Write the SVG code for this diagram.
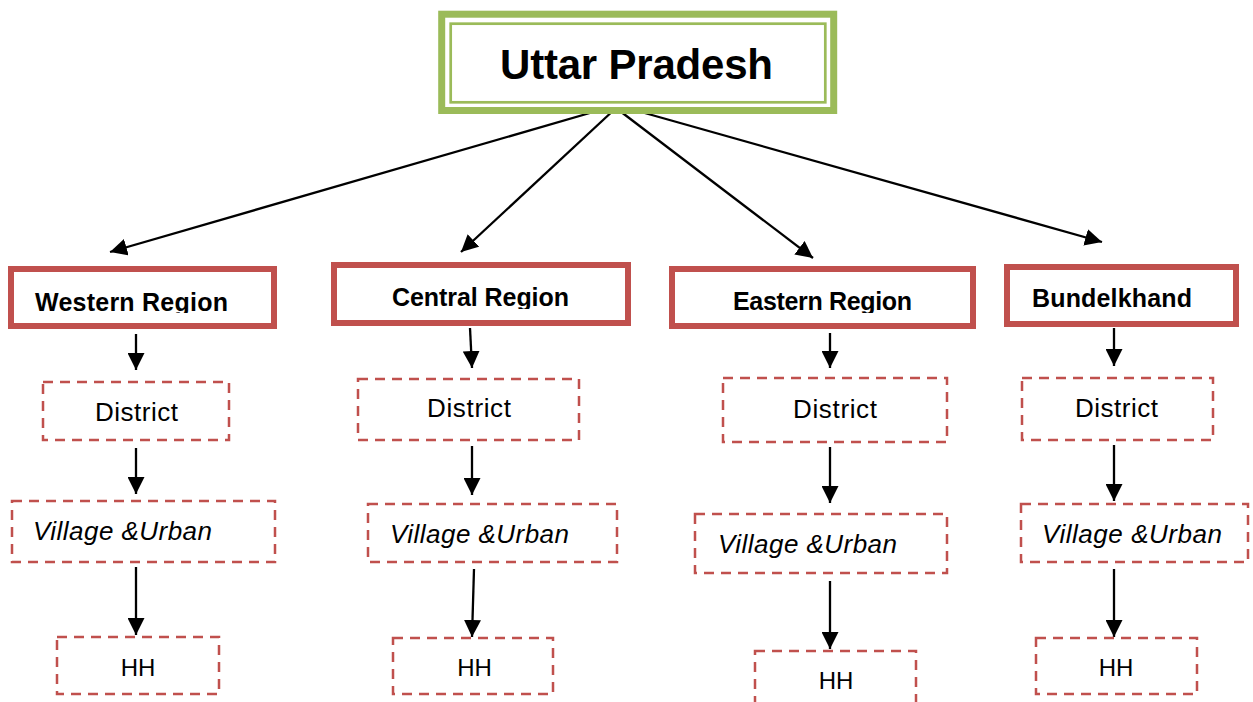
<svg xmlns="http://www.w3.org/2000/svg" width="1253" height="702" viewBox="0 0 1253 702">
<style>
.region{fill:#fff;stroke:#C0504D;stroke-width:6}
.dash{fill:#fff;stroke:#C0504D;stroke-width:2.5;stroke-dasharray:10 7}
.rt{font-family:"Liberation Sans",Arial,sans-serif;font-weight:bold;font-size:25px;fill:#000}
.nt{font-family:"Liberation Sans",Arial,sans-serif;font-size:26px;fill:#000}
.hh{font-family:"Liberation Sans",Arial,sans-serif;font-size:24px;fill:#000;text-anchor:middle}
.it{font-family:"Liberation Sans",Arial,sans-serif;font-style:italic;font-size:26px;fill:#000}
.conn{stroke:#000;stroke-width:2.3;fill:none;marker-end:url(#ah)}
</style>
<defs>
<marker id="ah" markerUnits="userSpaceOnUse" markerWidth="18" markerHeight="17" refX="17" refY="8.5" orient="auto">
<path d="M0,0 L17,8.5 L0,17 z" fill="#000"/>
</marker>
<clipPath id="cW"><rect x="0" y="270" width="300" height="43"/></clipPath>
<clipPath id="cC"><rect x="330" y="266" width="300" height="43"/></clipPath>
<clipPath id="cE"><rect x="670" y="270" width="310" height="43"/></clipPath>
</defs>
<rect width="1253" height="702" fill="#fff"/>

<g id="connectors">
<line class="conn" x1="607" y1="108" x2="110" y2="252"/>
<line class="conn" x1="616" y1="108" x2="461" y2="252"/>
<line class="conn" x1="616" y1="108" x2="813" y2="258"/>
<line class="conn" x1="627" y1="108" x2="1102" y2="242"/>

<line class="conn" x1="136" y1="334" x2="136" y2="370"/>
<line class="conn" x1="136" y1="448" x2="136" y2="494"/>
<line class="conn" x1="136" y1="567" x2="136" y2="635"/>

<line class="conn" x1="470" y1="328" x2="472" y2="368"/>
<line class="conn" x1="472" y1="446" x2="472" y2="495"/>
<line class="conn" x1="474" y1="569" x2="472" y2="637"/>

<line class="conn" x1="830" y1="333" x2="830" y2="368"/>
<line class="conn" x1="830" y1="447" x2="830" y2="503"/>
<line class="conn" x1="830" y1="581" x2="830" y2="649"/>

<line class="conn" x1="1114" y1="328" x2="1114" y2="366"/>
<line class="conn" x1="1114" y1="445" x2="1114" y2="501"/>
<line class="conn" x1="1114" y1="569" x2="1114" y2="637"/>
</g>

<g id="uttar-pradesh">
<rect x="441.7" y="14.2" width="392" height="96.3" fill="#fff" stroke="#9BBB59" stroke-width="7"/>
<rect x="450.7" y="23.7" width="374.6" height="78.6" fill="none" stroke="#9BBB59" stroke-width="2.7"/>
<text x="500" y="79" font-family="Liberation Sans, Arial, sans-serif" font-weight="bold" font-size="42" textLength="273">Uttar Pradesh</text>
</g>

<g id="western-region">
<rect class="region" x="11" y="269" width="263" height="57"/>
<text class="rt" x="35" y="311" textLength="193" clip-path="url(#cW)">Western Region</text>
</g>
<g id="central-region">
<rect class="region" x="334" y="265" width="294" height="58"/>
<text class="rt" x="392" y="306" textLength="177" clip-path="url(#cC)">Central Region</text>
</g>
<g id="eastern-region">
<rect class="region" x="672" y="269" width="301" height="57"/>
<text class="rt" x="733" y="310" textLength="179" clip-path="url(#cE)">Eastern Region</text>
</g>
<g id="bundelkhand">
<rect class="region" x="1007" y="267" width="229" height="57"/>
<text class="rt" x="1032" y="307" textLength="160">Bundelkhand</text>
</g>

<g id="western-district">
<rect class="dash" x="43" y="382" width="186" height="58"/>
<text class="nt" x="95" y="421" textLength="83">District</text>
</g>
<g id="western-village">
<rect class="dash" x="12" y="501" width="263" height="61"/>
<text class="it" x="33" y="540" textLength="179">Village &amp;Urban</text>
</g>
<g id="western-hh">
<rect class="dash" x="57" y="637" width="162" height="57"/>
<text class="hh" x="138" y="676">HH</text>
</g>

<g id="central-district">
<rect class="dash" x="358" y="379" width="221" height="61"/>
<text class="nt" x="427" y="417" textLength="84">District</text>
</g>
<g id="central-village">
<rect class="dash" x="368" y="504" width="249" height="58"/>
<text class="it" x="390" y="543" textLength="179">Village &amp;Urban</text>
</g>
<g id="central-hh">
<rect class="dash" x="393" y="638" width="160" height="56"/>
<text class="hh" x="474.5" y="676">HH</text>
</g>

<g id="eastern-district">
<rect class="dash" x="723" y="378" width="224" height="64"/>
<text class="nt" x="793" y="418" textLength="84">District</text>
</g>
<g id="eastern-village">
<rect class="dash" x="695" y="514" width="252" height="59"/>
<text class="it" x="718" y="553" textLength="179">Village &amp;Urban</text>
</g>
<g id="eastern-hh">
<rect class="dash" x="755" y="651" width="161" height="62"/>
<text class="hh" x="836" y="689">HH</text>
</g>

<g id="bundelkhand-district">
<rect class="dash" x="1022" y="378" width="191" height="62"/>
<text class="nt" x="1075" y="417" textLength="83">District</text>
</g>
<g id="bundelkhand-village">
<rect class="dash" x="1021" y="504" width="227" height="58"/>
<text class="it" x="1042" y="543" textLength="180">Village &amp;Urban</text>
</g>
<g id="bundelkhand-hh">
<rect class="dash" x="1036" y="638" width="161" height="56"/>
<text class="hh" x="1116" y="676">HH</text>
</g>
</svg>
